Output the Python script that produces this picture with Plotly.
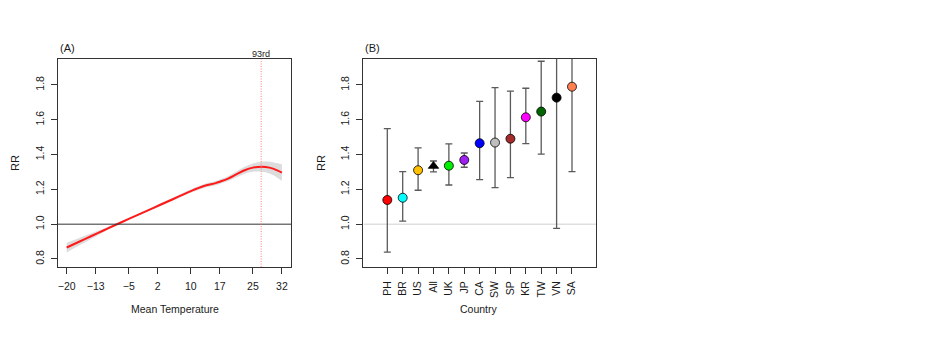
import plotly.graph_objects as go

# ---- Panel A: exposure-response curve ----
temps = [-20, -17, -14, -11, -8, -5, -2, 1, 4, 7, 10, 13, 16, 17, 19, 21, 23, 25, 27, 29, 31, 32]
rr_curve = [0.866, 0.899, 0.932, 0.965, 0.998, 1.030, 1.062, 1.094, 1.126, 1.158, 1.190,
            1.218, 1.236, 1.244, 1.262, 1.286, 1.310, 1.325, 1.330, 1.325, 1.308, 1.296]
ci_halfwidth = [0.028, 0.022, 0.016, 0.010, 0.006, 0.004, 0.005, 0.007, 0.008, 0.009, 0.010,
                0.011, 0.012, 0.013, 0.014, 0.016, 0.020, 0.024, 0.028, 0.034, 0.042, 0.048]
temp_ticks = [-20, -13, -5, 2, 10, 17, 25, 32]
pct_temp = 27
pct_label = "93rd"

# ---- Panel B: country estimates ----
countries = ["PH", "BR", "US", "All", "UK", "JP", "CA", "SW", "SP", "KR", "TW", "VN", "SA"]
rr_est = [1.139, 1.152, 1.310, 1.334, 1.336, 1.369, 1.465, 1.469, 1.491, 1.614, 1.647, 1.727, 1.790]
rr_low = [0.840, 1.017, 1.195, 1.300, 1.225, 1.327, 1.256, 1.210, 1.267, 1.463, 1.403, 0.976, 1.302]
rr_high = [1.549, 1.302, 1.438, 1.363, 1.461, 1.409, 1.706, 1.785, 1.764, 1.781, 1.936, 2.300, 2.400]
colors = ["#FF0000", "#00FFFF", "#FFC000", "#000000", "#00EE00", "#A020F0", "#0000FF",
          "#BEBEBE", "#A52A2A", "#FF00FF", "#006400", "#000000", "#FF7F50"]
symbols = ["circle", "circle", "circle", "triangle-up", "circle", "circle", "circle",
           "circle", "circle", "circle", "circle", "circle", "circle"]
rr_ticks = [0.8, 1.0, 1.2, 1.4, 1.6, 1.8]

FONT = "Liberation Sans, Arial, Helvetica, sans-serif"
INK = "#1a1a1a"
W, H = 940, 350

def px_x(p):
    return p / W

def px_y(p):
    return 1 - p / H

fig = go.Figure()

ci_lo = [r - h for r, h in zip(rr_curve, ci_halfwidth)]
ci_hi = [r + h for r, h in zip(rr_curve, ci_halfwidth)]

fig.add_trace(go.Scatter(x=temps, y=ci_hi, mode="lines", line=dict(width=0, shape="spline"),
                         hoverinfo="skip", showlegend=False, xaxis="x", yaxis="y"))
fig.add_trace(go.Scatter(x=temps, y=ci_lo, mode="lines", line=dict(width=0, shape="spline"),
                         fill="tonexty", fillcolor="rgba(205,205,205,0.7)",
                         hoverinfo="skip", showlegend=False, xaxis="x", yaxis="y"))
fig.add_trace(go.Scatter(x=temps, y=rr_curve, mode="lines",
                         line=dict(color="#FF1A1A", width=2, shape="spline"),
                         showlegend=False, xaxis="x", yaxis="y"))

idx = list(range(len(countries)))
fig.add_trace(go.Scatter(
    x=idx, y=rr_est, mode="markers",
    marker=dict(color=colors, symbol=symbols, size=9, line=dict(color="#000000", width=0.8)),
    error_y=dict(type="data", symmetric=False,
                 array=[h - e for h, e in zip(rr_high, rr_est)],
                 arrayminus=[e - l for e, l in zip(rr_est, rr_low)],
                 color="#5a5a5a", thickness=1.3, width=3.5),
    showlegend=False, xaxis="x2", yaxis="y2"))

axis_common = dict(showline=True, linecolor="#333333", linewidth=1, mirror=True,
                   ticks="outside", ticklen=6, tickcolor="#333333", tickwidth=1,
                   showgrid=False, zeroline=False, ticklabelstandoff=3,
                   tickfont=dict(family=FONT, size=10.5, color=INK))

y_dom = [px_y(267), px_y(59)]
fig.update_layout(
    width=W, height=H, margin=dict(l=0, r=0, t=0, b=0),
    paper_bgcolor="white", plot_bgcolor="white",
    xaxis=dict(domain=[px_x(58), px_x(291)], range=[-22.1, 34.2],
               tickvals=temp_ticks, ticktext=[str(t).replace("-", "\u2212") for t in temp_ticks],
               anchor="y", **axis_common),
    yaxis=dict(domain=y_dom, range=[0.754, 1.949], tickvals=rr_ticks,
               ticktext=[f"{v:.1f}" for v in rr_ticks], tickangle=-90, anchor="x", **axis_common),
    xaxis2=dict(domain=[px_x(363.3), px_x(596)], range=[-1.56, 13.56],
                tickvals=idx, ticktext=countries, tickangle=-90, anchor="y2", **axis_common),
    yaxis2=dict(domain=y_dom, range=[0.754, 1.949], tickvals=rr_ticks,
                ticktext=[f"{v:.1f}" for v in rr_ticks], tickangle=-90, anchor="x2", **axis_common),
    shapes=[
        dict(type="line", xref="x", yref="y", x0=-22.1, x1=34.2, y0=1, y1=1,
             line=dict(color="#333333", width=1)),
        dict(type="line", xref="x", yref="paper", x0=pct_temp, x1=pct_temp,
             y0=y_dom[0], y1=y_dom[1], line=dict(color="#FF7070", width=0.9, dash="1px,1.5px")),
        dict(type="line", xref="x2", yref="y2", x0=-1.56, x1=13.56, y0=1, y1=1,
             line=dict(color="#D0D0D0", width=1), layer="below"),
    ],
    annotations=[
        dict(text="(A)", x=px_x(58), y=px_y(48), xref="paper", yref="paper",
             xanchor="left", yanchor="middle", showarrow=False,
             font=dict(family=FONT, size=11, color=INK)),
        dict(text="(B)", x=px_x(363), y=px_y(48), xref="paper", yref="paper",
             xanchor="left", yanchor="middle", showarrow=False,
             font=dict(family=FONT, size=11, color=INK)),
        dict(text=pct_label, x=pct_temp, y=px_y(54), xref="x", yref="paper",
             xanchor="center", yanchor="middle", showarrow=False,
             font=dict(family=FONT, size=9, color=INK)),
        dict(text="RR", x=px_x(15), y=px_y(163), xref="paper", yref="paper", textangle=-90,
             xanchor="center", yanchor="middle", showarrow=False,
             font=dict(family=FONT, size=11, color=INK)),
        dict(text="RR", x=px_x(321), y=px_y(163), xref="paper", yref="paper", textangle=-90,
             xanchor="center", yanchor="middle", showarrow=False,
             font=dict(family=FONT, size=11, color=INK)),
        dict(text="Mean Temperature", x=px_x(174.5), y=px_y(309), xref="paper", yref="paper",
             xanchor="center", yanchor="middle", showarrow=False,
             font=dict(family=FONT, size=10.5, color=INK)),
        dict(text="Country", x=px_x(479.5), y=px_y(309), xref="paper", yref="paper",
             xanchor="center", yanchor="middle", showarrow=False,
             font=dict(family=FONT, size=10.5, color=INK)),
    ],
)

fig.write_html("out.html")
